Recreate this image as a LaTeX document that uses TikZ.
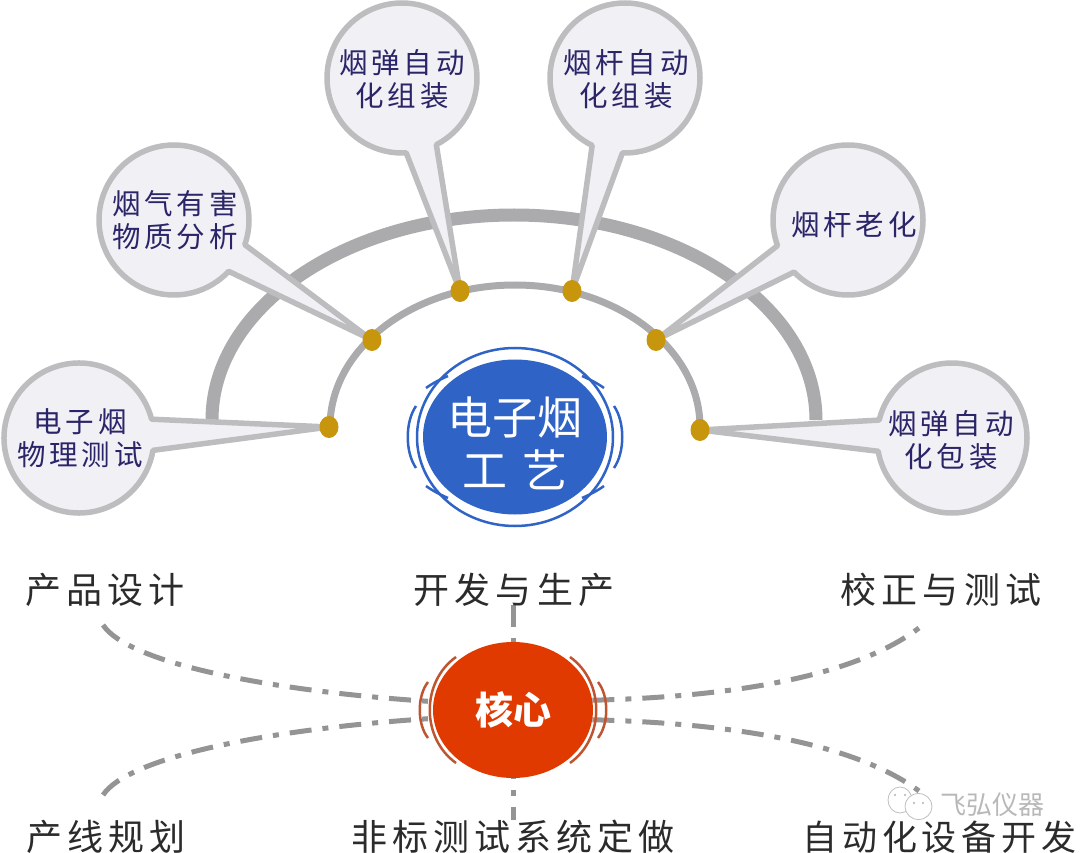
\documentclass[tikz,border=0pt]{standalone}
\usepackage{fontspec}
\newfontfamily\cjk[LetterSpace=14]{Noto Sans CJK SC}
\newfontfamily\cjkplain{Noto Sans CJK SC}
\usetikzlibrary{calc,positioning,backgrounds,shapes.geometric,shapes.callouts}
\definecolor{bubbleFill}{HTML}{F1F0F5}
\definecolor{bubbleLine}{HTML}{BDBDC0}
\definecolor{bubbleText}{HTML}{2A2468}
\definecolor{archGray}{HTML}{ABABAE}
\definecolor{dotGold}{HTML}{C8960C}
\definecolor{techBlue}{HTML}{2F63C6}
\definecolor{coreRed}{HTML}{E03A00}
\definecolor{coreLine}{HTML}{BF5430}
\definecolor{flowGray}{HTML}{949494}
\definecolor{labelInk}{HTML}{2B2B2B}

\begin{document}
\begin{tikzpicture}[x=1pt,y=1pt]

\tikzset{bubble/.style={ellipse callout, callout pointer arc=24, draw=bubbleLine, fill=bubbleFill, line width=5.5pt,
  line join=round, minimum width=150pt, minimum height=150pt, inner sep=0pt, outer sep=0pt},
bubbletext/.style={align=center, inner sep=0pt, text=bubbleText, font=\cjk\fontsize{28.5}{33.5}\selectfont},
golddot/.style={ellipse, fill=dotGold, minimum width=19pt, minimum height=22pt, inner sep=0pt},
techdisc/.style={ellipse, fill=techBlue, minimum width=184pt, minimum height=155pt, inner sep=0pt},
techtext/.style={align=center, inner sep=0pt, text=white, font=\cjkplain\fontsize{45}{53}\selectfont},
coredisc/.style={ellipse, fill=coreRed, minimum width=160pt, minimum height=136pt, inner sep=0pt,
  text=white, font=\cjkplain\bfseries\fontsize{38}{38}\selectfont},
techring/.style={draw=techBlue, line width=2.5pt},
corering/.style={draw=coreLine, line width=2.5pt},
flowline/.style={draw=flowGray, line width=5pt, dash pattern=on 22pt off 11pt on 6pt off 11pt},
stagelabel/.style={text=labelInk, inner sep=0pt, font=\cjk\fontsize{36}{36}\selectfont},
wmark/.style={draw=black!25, line width=0.8pt, fill=white}}

\path[use as bounding box] (0,-853) rectangle (1080,0);

\foreach \i/\x/\y in {1/329/427, 2/372/340, 3/460/291, 4/572/291, 5/656/340, 6/700/430}
  \coordinate (p\i) at (\x,-\y);

%the two arches
\draw[archGray, line width=13pt] (212,-420) arc[start angle=180, end angle=0, x radius=302pt, y radius=205pt];
\draw[archGray, line width=7pt] (330,-427) arc[start angle=180, end angle=0, x radius=185pt, y radius=142pt];

\foreach \n/\x/\y in {1/79/438, 2/174/220, 3/402/78, 4/625/78, 5/848/220, 6/952/438}
  \node[bubble, callout absolute pointer={(p\n)}] (b\n) at (\x,-\y) {};

\foreach \n/\x/\y/\t in {1/80/438/{电子烟\\物理测试}, 2/175/220/{烟气有害\\物质分析}, 3/402/79/{烟弹自动\\化组装},
    4/626/79/{烟杆自动\\化组装}, 5/854/225/{烟杆老化}, 6/951/440/{烟弹自动\\化包装}}
  \node[bubbletext] (t\n) at (\x,-\y) {\t};

\foreach \i in {1,...,6}
  \node[golddot] (d\i) at (p\i) {};

%the blue disc
\node[techdisc] (tech) at (515,-437) {};
\node[techtext] (techname) at (515,-443) {电子烟\\工\hspace{15pt}艺};
\draw[techring] (tech) ellipse [x radius=98pt, y radius=89pt];
\begin{scope}[shift={(tech.center)}]
\foreach \sx in {1,-1} {
  \draw[techring] (\sx*99,31) .. controls (\sx*110,15) and (\sx*110,-15) .. (\sx*99,-31);
  \foreach \sy in {1,-1}
    \draw[techring] (\sx*67,\sy*61) .. controls (\sx*75,\sy*57.5) and (\sx*82,\sy*54) .. (\sx*89,\sy*49);
}
\end{scope}

%stage labels
\node[stagelabel] (design) at (105,-590) {产品设计};
\node[stagelabel] (develop) at (514,-590) {开发与生产};
\node[stagelabel] (calib) at (941,-590) {校正与测试};
\node[stagelabel] (plan) at (106,-837) {产线规划};
\node[stagelabel] (custom) at (513,-837) {非标测试系统定做};
\node[stagelabel, font=\cjk\fontsize{35}{36}\selectfont] (auto) at (939.5,-837) {自动化设备开发};

\node[coredisc] (core) at (513,-710) {核心};

\coordinate (fa) at (103,-625);
\coordinate (fb) at (103,-795);
\coordinate (fc) at (919,-628);
\coordinate (fd) at (919,-791);
\coordinate (fe) at (513,-605);
\coordinate (ff) at (513,-820);

%dash-dot lines run under the disc
\begin{scope}[on background layer]
\draw[flowline] (fa) .. controls (130,-665) and (280,-692) .. (core.174);
\draw[flowline] (fb) .. controls (130,-755) and (280,-728) .. (core.186);
\draw[flowline] (core.7) .. controls (720,-697) and (850,-680) .. (fc);
\draw[flowline] (core.-7) .. controls (720,-723) and (850,-740) .. (fd);
\draw[flowline] (fe) -- (core.north);
\draw[flowline, dash phase=9pt] (ff) -- (core.south);
\end{scope}

\begin{scope}[shift={(core.center)}]
\foreach \sx in {1,-1} {
  \draw[corering] (\sx*57,53) .. controls (\sx*92,28) and (\sx*92,-28) .. (\sx*57,-53);
  \draw[corering] (\sx*85,28) .. controls (\sx*96,14) and (\sx*96,-14) .. (\sx*85,-28);
}
\end{scope}

%watermark
\draw[wmark] (900,-800) ellipse [x radius=12pt, y radius=13pt];
\draw[wmark] (918.5,-806.5) ellipse [x radius=13.5pt, y radius=13pt];
\foreach \x/\y in {895/795, 905/795, 914/803, 923/803}
  \fill[black!30] (\x,-\y) circle (1.1pt);
\node[text=black!28, inner sep=0pt, font=\cjkplain\fontsize{26}{26}\selectfont] (mark) at (992,-805) {飞弘仪器};

\end{tikzpicture}
\end{document}
